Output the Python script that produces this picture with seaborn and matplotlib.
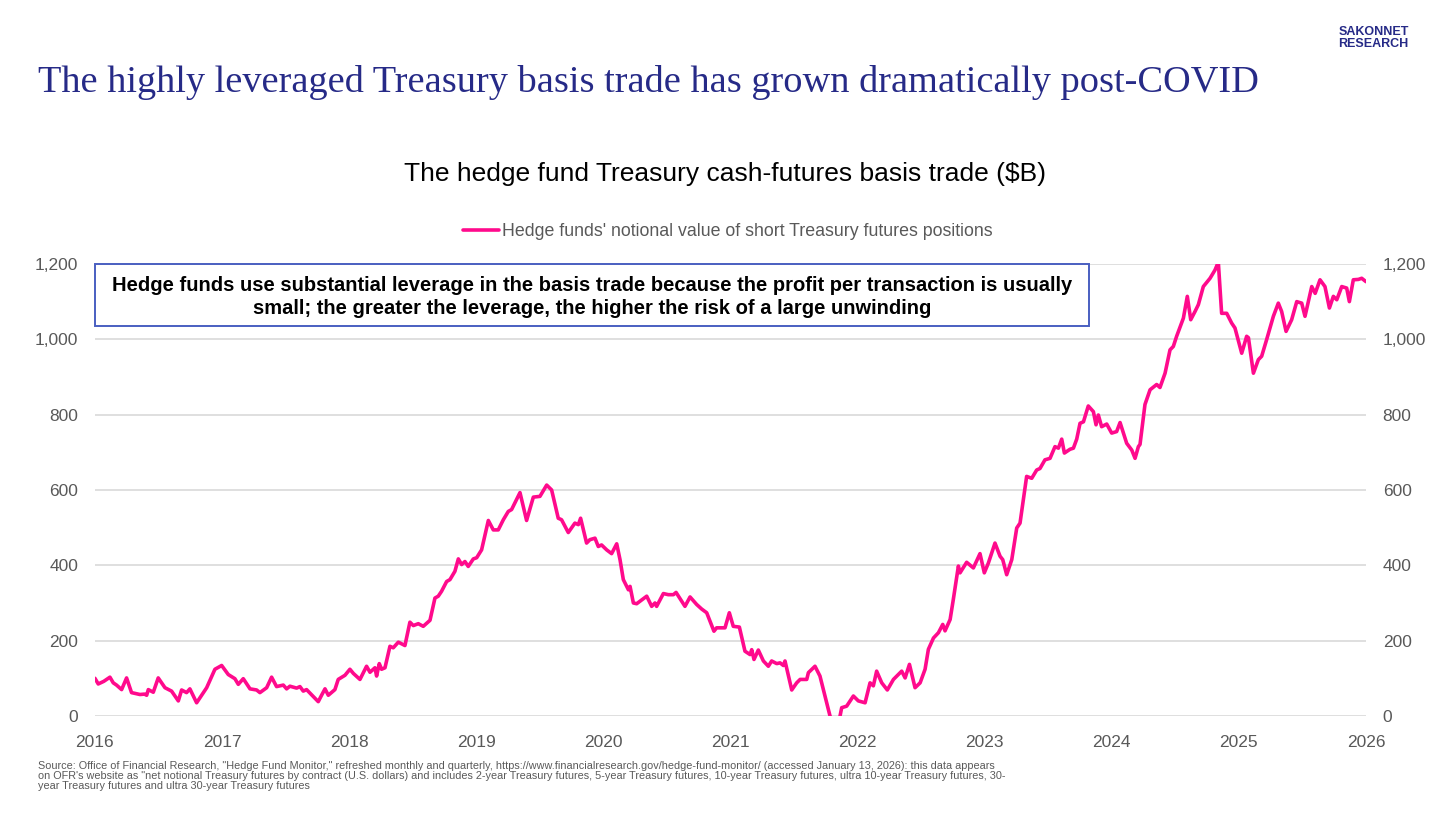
import pandas as pd
import matplotlib.pyplot as plt
import seaborn as sns

# Hedge fund short Treasury futures notional ($B) (decimal years)
year = [
    2016.000, 2016.026, 2016.070, 2016.118, 2016.144, 2016.170, 2016.210, 2016.249, 2016.288, 2016.354,
    2016.390, 2016.407, 2016.420, 2016.459, 2016.498, 2016.551, 2016.603, 2016.656, 2016.682, 2016.721,
    2016.747, 2016.800, 2016.879, 2016.944, 2016.997, 2017.049, 2017.101, 2017.128, 2017.167, 2017.220,
    2017.272, 2017.298, 2017.351, 2017.390, 2017.429, 2017.482, 2017.508, 2017.534, 2017.587, 2017.613,
    2017.639, 2017.665, 2017.757, 2017.783, 2017.810, 2017.836, 2017.888, 2017.914, 2017.967, 2018.006,
    2018.033, 2018.085, 2018.137, 2018.164, 2018.203, 2018.216, 2018.237, 2018.255, 2018.282, 2018.321,
    2018.347, 2018.387, 2018.439, 2018.478, 2018.505, 2018.544, 2018.583, 2018.636, 2018.675, 2018.701,
    2018.727, 2018.767, 2018.793, 2018.832, 2018.859, 2018.885, 2018.911, 2018.937, 2018.977, 2019.003,
    2019.042, 2019.095, 2019.134, 2019.173, 2019.213, 2019.252, 2019.278, 2019.344, 2019.396, 2019.449,
    2019.501, 2019.554, 2019.593, 2019.645, 2019.671, 2019.724, 2019.776, 2019.803, 2019.821, 2019.868,
    2019.894, 2019.934, 2019.960, 2019.986, 2020.026, 2020.065, 2020.105, 2020.131, 2020.157, 2020.197,
    2020.210, 2020.236, 2020.262, 2020.341, 2020.380, 2020.406, 2020.419, 2020.472, 2020.511, 2020.551,
    2020.572, 2020.642, 2020.682, 2020.734, 2020.773, 2020.813, 2020.870, 2020.891, 2020.957, 2020.991,
    2021.022, 2021.070, 2021.114, 2021.154, 2021.167, 2021.185, 2021.219, 2021.259, 2021.298, 2021.324,
    2021.364, 2021.390, 2021.416, 2021.429, 2021.482, 2021.521, 2021.548, 2021.600, 2021.613, 2021.665,
    2021.704, 2021.783, 2021.820, 2021.850, 2021.862, 2021.875, 2021.914, 2021.967, 2022.006, 2022.059,
    2022.098, 2022.124, 2022.150, 2022.190, 2022.234, 2022.282, 2022.321, 2022.347, 2022.374, 2022.408,
    2022.452, 2022.492, 2022.531, 2022.557, 2022.597, 2022.636, 2022.670, 2022.688, 2022.728, 2022.753,
    2022.793, 2022.806, 2022.858, 2022.911, 2022.963, 2022.997, 2023.029, 2023.081, 2023.121, 2023.142,
    2023.173, 2023.213, 2023.252, 2023.278, 2023.330, 2023.370, 2023.409, 2023.435, 2023.474, 2023.514,
    2023.553, 2023.580, 2023.606, 2023.627, 2023.671, 2023.698, 2023.724, 2023.750, 2023.777, 2023.815,
    2023.855, 2023.876, 2023.894, 2023.920, 2023.960, 2023.999, 2024.038, 2024.065, 2024.117, 2024.157,
    2024.183, 2024.209, 2024.222, 2024.261, 2024.301, 2024.353, 2024.379, 2024.419, 2024.458, 2024.484,
    2024.510, 2024.563, 2024.594, 2024.621, 2024.655, 2024.681, 2024.720, 2024.773, 2024.812, 2024.838,
    2024.864, 2024.904, 2024.943, 2024.969, 2025.022, 2025.061, 2025.075, 2025.114, 2025.153, 2025.179,
    2025.218, 2025.271, 2025.310, 2025.336, 2025.371, 2025.415, 2025.455, 2025.494, 2025.520, 2025.573,
    2025.600, 2025.638, 2025.677, 2025.712, 2025.743, 2025.770, 2025.809, 2025.848, 2025.869, 2025.900,
    2025.940, 2025.966, 2026.000,
]
short_futures = [
    100, 85, 92, 103, 88, 82, 70, 101, 62, 57,
    58, 55, 70, 63, 101, 75, 66, 40, 69, 62,
    72, 35, 75, 124, 134, 110, 99, 84, 99, 72,
    69, 62, 75, 103, 78, 82, 72, 79, 74, 78,
    66, 70, 38, 55, 72, 55, 70, 97, 108, 124,
    113, 97, 132, 116, 128, 106, 139, 124, 128, 185,
    181, 196, 187, 249, 240, 245, 238, 254, 313, 318,
    331, 357, 362, 384, 417, 402, 410, 397, 417, 420,
    441, 519, 494, 494, 521, 543, 548, 593, 519, 581,
    583, 613, 600, 525, 521, 487, 512, 508, 525, 459,
    468, 472, 450, 454, 441, 431, 457, 415, 362, 335,
    344, 300, 298, 318, 291, 300, 291, 325, 322, 322,
    328, 291, 316, 296, 284, 274, 225, 234, 234, 274,
    238, 236, 172, 163, 176, 150, 175, 146, 132, 146,
    139, 141, 134, 146, 69, 88, 97, 97, 115, 132,
    106, 0, -30, -30, 0, 22, 26, 53, 40, 35,
    88, 80, 119, 88, 69, 97, 110, 119, 101, 137,
    75, 88, 124, 177, 207, 221, 243, 226, 256, 309,
    398, 380, 408, 393, 431, 380, 406, 459, 424, 415,
    375, 415, 499, 512, 636, 631, 653, 657, 680, 684,
    715, 711, 735, 698, 708, 711, 735, 777, 781, 823,
    808, 773, 799, 768, 775, 751, 755, 779, 724, 706,
    684, 715, 721, 827, 866, 880, 872, 910, 972, 981,
    1008, 1056, 1114, 1052, 1074, 1092, 1140, 1162, 1184, 1205,
    1069, 1069, 1043, 1030, 963, 1008, 1004, 910, 946, 955,
    999, 1061, 1096, 1074, 1021, 1052, 1100, 1096, 1061, 1140,
    1122, 1158, 1140, 1083, 1114, 1105, 1140, 1136, 1100, 1158,
    1159, 1162, 1153,
]

year_ticks = list(range(2016, 2027))
value_ticks = [0, 200, 400, 600, 800, 1000, 1200]

series_label = "Hedge funds' notional value of short Treasury futures positions"
pink = '#ff0a8c'
navy = '#262a87'
grey_text = '#595959'

df = pd.DataFrame({'year': year, 'value': short_futures})

sns.set_style('white')
plt.rcParams['font.family'] = ['Liberation Sans', 'DejaVu Sans']

fig = plt.figure(figsize=(14.56, 8.19), dpi=100)
ax = fig.add_axes([0.0652, 0.1258, 0.8730, 0.5519])

sns.lineplot(data=df, x='year', y='value', ax=ax, color=pink, linewidth=2.6,
             label=series_label, legend=False)

ax.set_xlim(2016, 2026)
ax.set_ylim(0, 1200)
ax.set_xticks(year_ticks)
ax.set_xticklabels([str(y) for y in year_ticks])
ax.set_yticks(value_ticks)
ax.set_yticklabels([f'{v:,}' for v in value_ticks])
ax.set_xlabel('')
ax.set_ylabel('')
ax.grid(axis='y', color='#d9d9d9', linewidth=1.2)
ax.grid(axis='x', visible=False)
for s in ax.spines.values():
    s.set_visible(False)
ax.tick_params(axis='x', length=0, labelsize=12.5, labelcolor=grey_text, pad=14)
ax.tick_params(axis='y', length=0, labelsize=12.5, labelcolor=grey_text, pad=12)

# mirrored right axis labels
ax2 = ax.twinx()
ax2.set_ylim(ax.get_ylim())
ax2.set_yticks(value_ticks)
ax2.set_yticklabels([f'{v:,}' for v in value_ticks])
for s in ax2.spines.values():
    s.set_visible(False)
ax2.tick_params(axis='y', length=0, labelsize=12.5, labelcolor=grey_text, pad=12)

# legend on top
leg = fig.legend(handles=ax.get_lines()[:1], labels=[series_label],
                 loc='center', bbox_to_anchor=(0.5, 1 - 232 / 819), frameon=False,
                 fontsize=12.8, handlelength=2.0, handletextpad=0.2)
for t in leg.get_texts():
    t.set_color(grey_text)

# annotation box
ax.text(0.3911, 0.927,
        'Hedge funds use substantial leverage in the basis trade because the profit per transaction is usually\n'
        'small; the greater the leverage, the higher the risk of a large unwinding',
        transform=ax.transAxes, ha='center', va='center', fontsize=14.5, fontweight='bold',
        color='black', linespacing=1.3)
box = plt.Rectangle((0.0, 0.8625), 0.7821, 0.1375, transform=ax.transAxes,
                    facecolor='none', edgecolor='#4a5fc1', linewidth=1.4, clip_on=False)
ax.add_patch(box)

# titles
fig.text(0.026, 1 - 83 / 819, 'The highly leveraged Treasury basis trade has grown dramatically post-COVID',
         fontsize=27.6, color=navy, family=['Liberation Serif', 'DejaVu Serif'], ha='left', va='center')
fig.text(0.498, 1 - 174 / 819, 'The hedge fund Treasury cash-futures basis trade ($B)',
         fontsize=19, color='black', ha='center', va='center')
fig.text(0.9435, 1 - 38 / 819, 'SAKONNET\nRESEARCH', fontsize=9, fontweight='bold', color=navy,
         ha='center', va='center', linespacing=0.9)

# source note
fig.text(0.026, 1 - 761 / 819,
         'Source: Office of Financial Research, "Hedge Fund Monitor," refreshed monthly and quarterly, '
         'https://www.financialresearch.gov/hedge-fund-monitor/ (accessed January 13, 2026): this data appears\n'
         'on OFR\'s website as "net notional Treasury futures by contract (U.S. dollars) and includes 2-year Treasury '
         'futures, 5-year Treasury futures, 10-year Treasury futures, ultra 10-year Treasury futures, 30-\n'
         'year Treasury futures and ultra 30-year Treasury futures',
         fontsize=7.8, color=grey_text, ha='left', va='top', linespacing=1.0)

fig.savefig('out.png', dpi=100)
